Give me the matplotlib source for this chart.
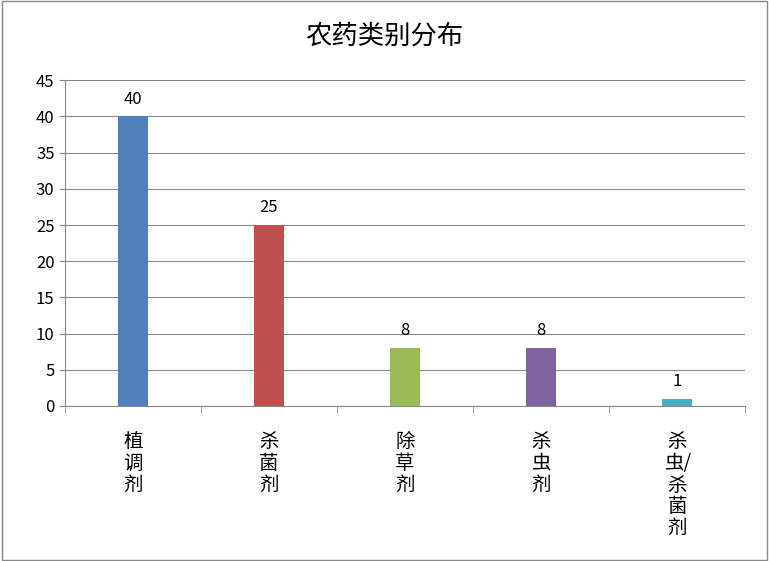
import matplotlib
matplotlib.use("Agg")
import matplotlib.pyplot as plt
from matplotlib.patches import Rectangle

plt.rcParams["font.family"] = ["Noto Sans CJK SC", "DejaVu Sans"]

categories = ["植调剂", "杀菌剂", "除草剂", "杀虫剂", "杀虫/杀菌剂"]
tick_labels = ["植\n调\n剂", "杀\n菌\n剂", "除\n草\n剂", "杀\n虫\n剂", "杀\n虫/\n杀\n菌\n剂"]
values = [40, 25, 8, 8, 1]
colors = ["#4F81BD", "#C0504D", "#9BBB59", "#8064A2", "#4BACC6"]

fig = plt.figure(figsize=(7.69, 5.61), dpi=100)
ax = fig.add_axes([0.0845, 0.2763, 0.8845, 0.5807])

x = range(len(values))
ax.bar(x, values, width=0.22, color=colors, zorder=3)
for i, v in zip(x, values):
    ax.text(i, v + 1.2, str(v), ha="center", va="bottom", fontsize=12)

ax.set_xlim(-0.5, len(values) - 0.5)
ax.set_ylim(0, 45)
ax.set_yticks(range(0, 46, 5))
ax.tick_params(axis="y", labelsize=12, direction="out", length=4, color="#888888")
ax.set_xticks(x)
ax.set_xticklabels(tick_labels, fontsize=14, linespacing=1.05)
ax.tick_params(axis="x", length=0, pad=18)
ax.set_xticks([i + 0.5 for i in range(-1, len(values))], minor=True)
ax.tick_params(axis="x", which="minor", length=5, direction="out", color="#888888")
ax.grid(axis="y", color="#888888", linewidth=0.8, zorder=0)
for s in ["top", "right"]:
    ax.spines[s].set_visible(False)
ax.spines["left"].set_color("#888888")
ax.spines["bottom"].set_color("#888888")

fig.text(0.5, 0.935, "农药类别分布", ha="center", va="center", fontsize=19)
fig.patches.append(Rectangle((0.002, 0.002), 0.996, 0.996, transform=fig.transFigure,
                             fill=False, edgecolor="#888888", linewidth=1))

fig.savefig("out.png", dpi=100)
